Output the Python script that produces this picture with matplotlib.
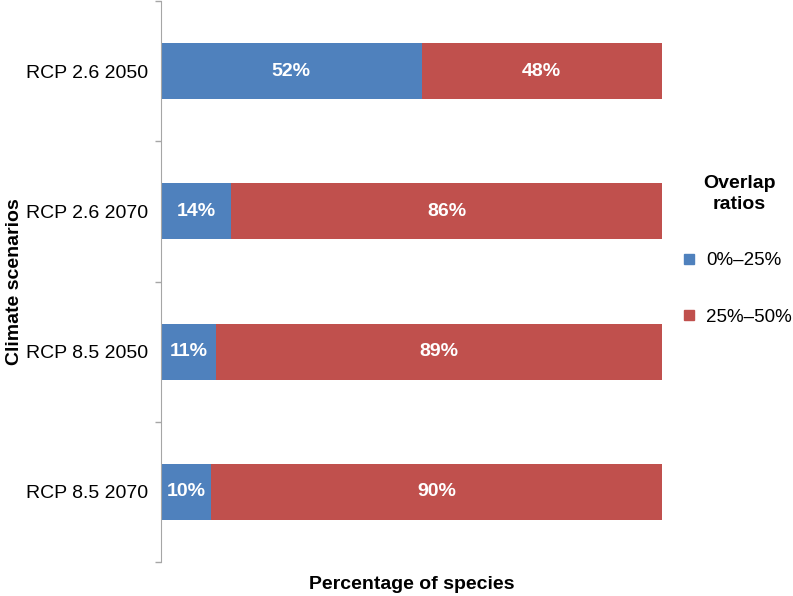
import matplotlib
matplotlib.use('Agg')
import matplotlib.pyplot as plt
from matplotlib.lines import Line2D

plt.rcParams['font.family'] = ['Liberation Sans', 'DejaVu Sans']

# Данные
scenarios = ['RCP 2.6 2050', 'RCP 2.6 2070', 'RCP 8.5 2050', 'RCP 8.5 2070']
low_share = [52, 14, 11, 10]     # 0%-25%
high_share = [48, 86, 89, 90]    # 25%-50%
legend_labels = ['0%\u201325%', '25%\u201350%']
colors = ['#4F81BD', '#C0504D']

fig = plt.figure(figsize=(7.93, 5.96), dpi=100)
ax = fig.add_axes([161 / 793, 1 - 562 / 596, (662 - 161) / 793, 561 / 596])

y = list(range(len(scenarios)))
b1 = ax.barh(y, low_share, height=0.4, color=colors[0])
b2 = ax.barh(y, high_share, left=low_share, height=0.4, color=colors[1])

for bars, vals in ((b1, low_share), (b2, high_share)):
    ax.bar_label(bars, labels=[f'{v}%' for v in vals], label_type='center',
                 color='white', fontweight='bold', fontsize=14)

ax.set_xlim(0, 100)
ax.set_ylim(3.5, -0.5)
ax.set_xticks([])
ax.set_yticks(y)
ax.set_yticklabels(scenarios, fontsize=14)
ax.set_yticks([v - 0.5 for v in range(len(scenarios) + 1)], minor=True)
ax.tick_params(axis='y', which='major', length=0, pad=9.5)
ax.tick_params(axis='y', which='minor', length=4, color='#A6A6A6', width=1)

for s in ('top', 'right', 'bottom'):
    ax.spines[s].set_visible(False)
ax.spines['left'].set_color('#A6A6A6')

ax.set_xlabel('Percentage of species', fontsize=14, fontweight='bold', labelpad=10)
ax.set_ylabel('Climate scenarios', fontsize=14, fontweight='bold')
ax.yaxis.set_label_coords(-0.276, 0.5)

# Легенда: заголовок отдельно, чтобы выставить отступ
fig.text(739 / 793, 1 - 194 / 596, 'Overlap\nratios', ha='center', va='center',
         multialignment='center', fontsize=14, fontweight='bold',
         linespacing=1.3)
handles = [Line2D([], [], marker='s', linestyle='none', markersize=7,
                  color=c) for c in colors]
fig.legend(handles, legend_labels, loc='center left',
           bbox_to_anchor=(665 / 793, 1 - 289 / 596), frameon=False,
           fontsize=13.5, labelspacing=2.1, handletextpad=0.5, handlelength=0.8)

fig.savefig('out.png', dpi=100)
